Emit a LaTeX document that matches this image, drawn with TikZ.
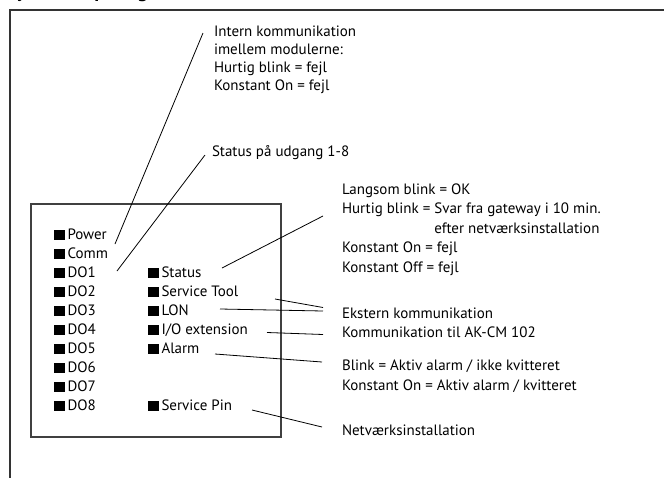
\documentclass[tikz,border=0pt]{standalone}
\usepackage{fontspec}
\setmainfont{PT Sans}
\begin{document}
\begin{tikzpicture}[x=1pt,y=-1pt,
  every node/.style={inner sep=0pt,outer sep=0pt},
  txt/.style={anchor=base west,font=\fontsize{15}{19.3}\selectfont,align=left},
  led/.style={txt},
  frame/.style={draw=black!80,line width=1.4pt},
  box/.style={draw=black!75,line width=1.3pt},
  conn/.style={draw=black,line width=0.8pt}]
\newcommand{\ledsq}{\rule{11pt}{10pt}\hspace{2.5pt}}
\useasboundingbox (0,0) rectangle (664,477);
\clip (0,0) rectangle (664,477);

% heading (cut by the page edge) and the page frame
\node[anchor=base west,font=\fontsize{20}{24}\selectfont\bfseries] (title) at (8,-3) {Lysdioder på regulatoren};
\draw[frame] (10,480) -- (10,10) -- (670,10);

% module front
\draw[box] (31,204) rectangle (281,437);

% left LED column
\node[led] (pwr)  at (54,239.5) {\ledsq Power};
\node[led] (comm) at (54,258.5) {\ledsq Comm};
\node[led] (do1)  at (54,277.5) {\ledsq DO1};
\node[led] (do2)  at (54,296.5) {\ledsq DO2};
\node[led] (do3)  at (54,315.5) {\ledsq DO3};
\node[led] (do4)  at (54,334.5) {\ledsq DO4};
\node[led] (do5)  at (54,353.5) {\ledsq DO5};
\node[led] (do6)  at (54,372.5) {\ledsq DO6};
\node[led] (do7)  at (54,391.5) {\ledsq DO7};
\node[led] (do8)  at (54,410.5) {\ledsq DO8};

% right LED column
\node[led] (stat) at (148,277.5) {\ledsq Status};
\node[led] (stool) at (148,296.5) {\ledsq Service Tool};
\node[led] (lon)  at (148,315.5) {\ledsq LON};
\node[led] (ioext) at (148,334.5) {\ledsq I/O extension};
\node[led] (alarm) at (148,353.5) {\ledsq Alarm};
\node[led] (spin) at (148,410.5) {\ledsq Service Pin};

% descriptions (multi-line nodes are placed by their last baseline)
\node[txt,font=\fontsize{15}{18}\selectfont] (intern) at (214,90) {Intern kommunikation\\imellem modulerne:\\Hurtig blink = fejl\\Konstant On = fejl};
\node[txt] (udgang) at (212,156) {Status på udgang 1-8};
\node[txt,font=\fontsize{15}{19.5}\selectfont] (statdesc) at (342,272) {Langsom blink = OK\\Hurtig blink = Svar fra gateway i 10 min.\\\phantom{Hurtig blink = }efter netværksinstallation\\Konstant On = fejl\\Konstant Off = fejl};
\node[txt] (ekstern) at (342,318) {Ekstern kommunikation};
\node[txt] (akcm) at (342,337.5) {Kommunikation til AK-CM 102};
\node[txt] (alarmdesc) at (342,390) {Blink = Aktiv alarm / ikke kvitteret\\Konstant On = Aktiv alarm / kvitteret};
\node[txt] (netinst) at (342,435) {Netværksinstallation};

% connector end points
\coordinate (cA1) at (115,244);  \coordinate (cA2) at (203,33);
\coordinate (cB1) at (117,271);  \coordinate (cB2) at (205,155);
\coordinate (cC1) at (222,268);  \coordinate (cC2) at (323,216);
\coordinate (cD1) at (275,299);  \coordinate (cD2) at (323,307.5);
\coordinate (cE1) at (220,309);  \coordinate (cE2) at (323,311);
\coordinate (cF1) at (267,332.5);\coordinate (cF2) at (323,334.5);
\coordinate (cG1) at (215,354);  \coordinate (cG2) at (322,362);
\coordinate (cH1) at (252,410);  \coordinate (cH2) at (322,427);

\draw[conn] (cA1) -- (cA2);
\draw[conn] (cB1) -- (cB2);
\draw[conn] (cC1) -- (cC2);
\draw[conn] (cD1) -- (cD2);
\draw[conn] (cE1) -- (cE2);
\draw[conn] (cF1) -- (cF2);
\draw[conn] (cG1) -- (cG2);
\draw[conn] (cH1) -- (cH2);
\end{tikzpicture}
\end{document}
